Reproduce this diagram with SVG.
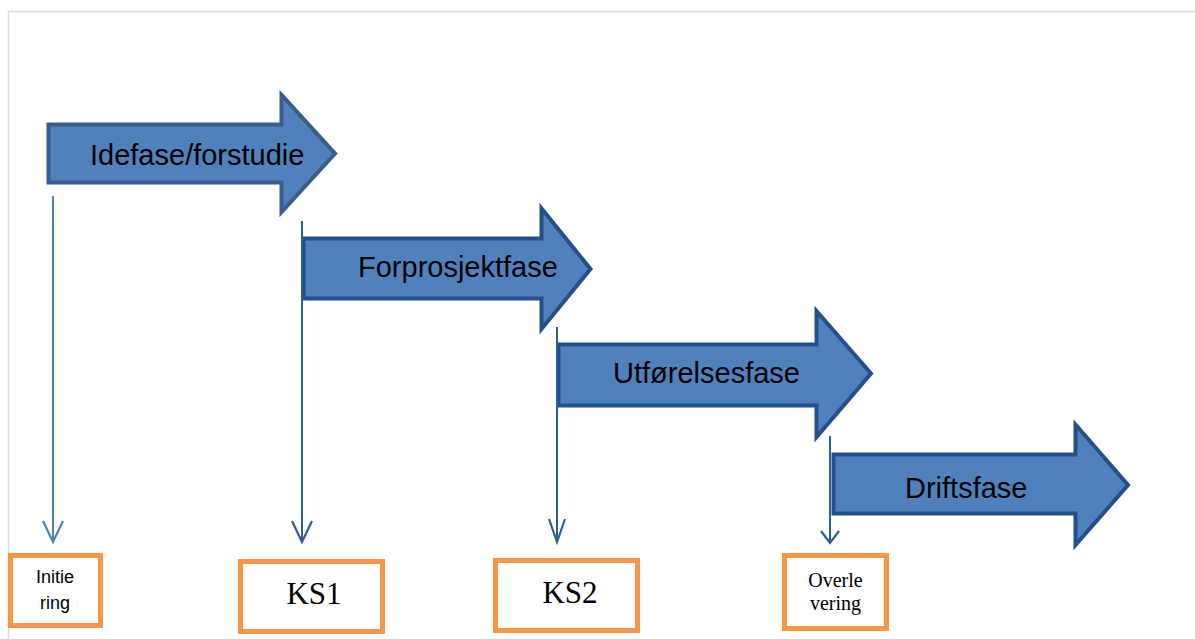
<svg xmlns="http://www.w3.org/2000/svg" width="1195" height="639" viewBox="0 0 1195 639">
  <style>
    .frame { fill: none; stroke: #d9d9d9; stroke-width: 1.5; }
    .phase { fill: #4f81bd; stroke: #23508a; stroke-width: 4; stroke-linejoin: miter; }
    .phase.first { stroke: #385d8a; }
    .phase-label { font-family: "Liberation Sans", Arial, sans-serif; font-size: 29px; fill: #000; }
    .gate { fill: #fff; stroke: #f79646; stroke-width: 5; }
    .gate-sans { font-family: "Liberation Sans", Arial, sans-serif; font-size: 18px; fill: #000; text-anchor: middle; }
    .gate-serif { font-family: "Liberation Serif", "Times New Roman", serif; fill: #000; text-anchor: middle; }
    .link { fill: none; stroke: #2f5d97; stroke-width: 2; }
    .link.light { stroke: #4f81bd; }
  </style>
  <defs>
    <marker id="open-v" markerUnits="userSpaceOnUse" markerWidth="26" markerHeight="24" viewBox="-23 -12 26 24" refX="0" refY="0" orient="auto" overflow="visible">
      <path d="M -21 -10 L 0 0 L -21 10" fill="none" stroke="#2f5d97" stroke-width="2.2"/>
    </marker>
    <marker id="open-v-light" markerUnits="userSpaceOnUse" markerWidth="26" markerHeight="24" viewBox="-23 -12 26 24" refX="0" refY="0" orient="auto" overflow="visible">
      <path d="M -21 -10 L 0 0 L -21 10" fill="none" stroke="#4f81bd" stroke-width="2.2"/>
    </marker>
    <marker id="open-v-dark" markerUnits="userSpaceOnUse" markerWidth="26" markerHeight="24" viewBox="-23 -12 26 24" refX="0" refY="0" orient="auto" overflow="visible">
      <path d="M -23 -8 L 0 0 L -23 8" fill="none" stroke="#2f5d97" stroke-width="2.2"/>
    </marker>
    <marker id="open-v-small" markerUnits="userSpaceOnUse" markerWidth="16" markerHeight="22" viewBox="-14 -11 16 22" refX="0" refY="0" orient="auto" overflow="visible">
      <path d="M -12 -9 L 0 0 L -12 9" fill="none" stroke="#2f5d97" stroke-width="2.2"/>
    </marker>
  </defs>

  <rect width="1195" height="639" fill="#fff"/>
  <!-- page frame -->
  <path class="frame" d="M 8.5 639 L 8.5 11.5 L 1195 11.5"/>

  <!-- phase arrows -->
  <g id="idefase">
    <polygon class="phase first" points="48.5,124.5 281.5,124.5 281.5,95 335,153.5 281.5,212 281.5,182.5 48.5,182.5"/>
    <text class="phase-label" x="90" y="165">Idefase/forstudie</text>
  </g>
  <g id="forprosjektfase">
    <polygon class="phase" points="303.5,238.5 541.5,238.5 541.5,208.5 590.5,269 541.5,329 541.5,298.5 303.5,298.5"/>
    <text class="phase-label" x="358" y="277">Forprosjektfase</text>
  </g>
  <g id="utforelsesfase">
    <polygon class="phase" points="558.5,344.5 816.5,344.5 816.5,311 871,373.5 816.5,437 816.5,405.5 558.5,405.5"/>
    <text class="phase-label" x="613" y="383">Utførelsesfase</text>
  </g>
  <g id="driftsfase">
    <polygon class="phase" points="833.5,454.5 1075.5,454.5 1075.5,424.5 1128,485 1075.5,545 1075.5,513.5 833.5,513.5"/>
    <text class="phase-label" x="905" y="498">Driftsfase</text>
  </g>

  <!-- decision gates -->
  <g id="initiering">
    <rect class="gate" x="10.5" y="555.5" width="90" height="70"/>
    <text class="gate-sans" x="55" y="583">Initie</text>
    <text class="gate-sans" x="55" y="609">ring</text>
  </g>
  <g id="ks1">
    <rect class="gate" x="240.5" y="561.5" width="142" height="70"/>
    <text class="gate-serif" x="314" y="604" font-size="31">KS1</text>
  </g>
  <g id="ks2">
    <rect class="gate" x="495.5" y="560.5" width="142" height="70"/>
    <text class="gate-serif" x="570" y="603" font-size="31">KS2</text>
  </g>
  <g id="overlevering">
    <rect class="gate" x="784.5" y="555.5" width="102" height="73"/>
    <text class="gate-serif" x="835.5" y="587" font-size="20">Overle</text>
    <text class="gate-serif" x="835.5" y="610" font-size="20">vering</text>
  </g>

  <!-- connectors from phase start to gate -->
  <g id="connectors">
    <line class="link light" x1="53" y1="196" x2="53" y2="542" marker-end="url(#open-v-light)"/>
    <line class="link" x1="302" y1="221" x2="302" y2="542" marker-end="url(#open-v)"/>
    <line class="link" x1="557" y1="327" x2="557" y2="542" marker-end="url(#open-v-dark)"/>
    <line class="link" x1="830" y1="436" x2="830" y2="543" marker-end="url(#open-v-small)"/>
  </g>
</svg>
